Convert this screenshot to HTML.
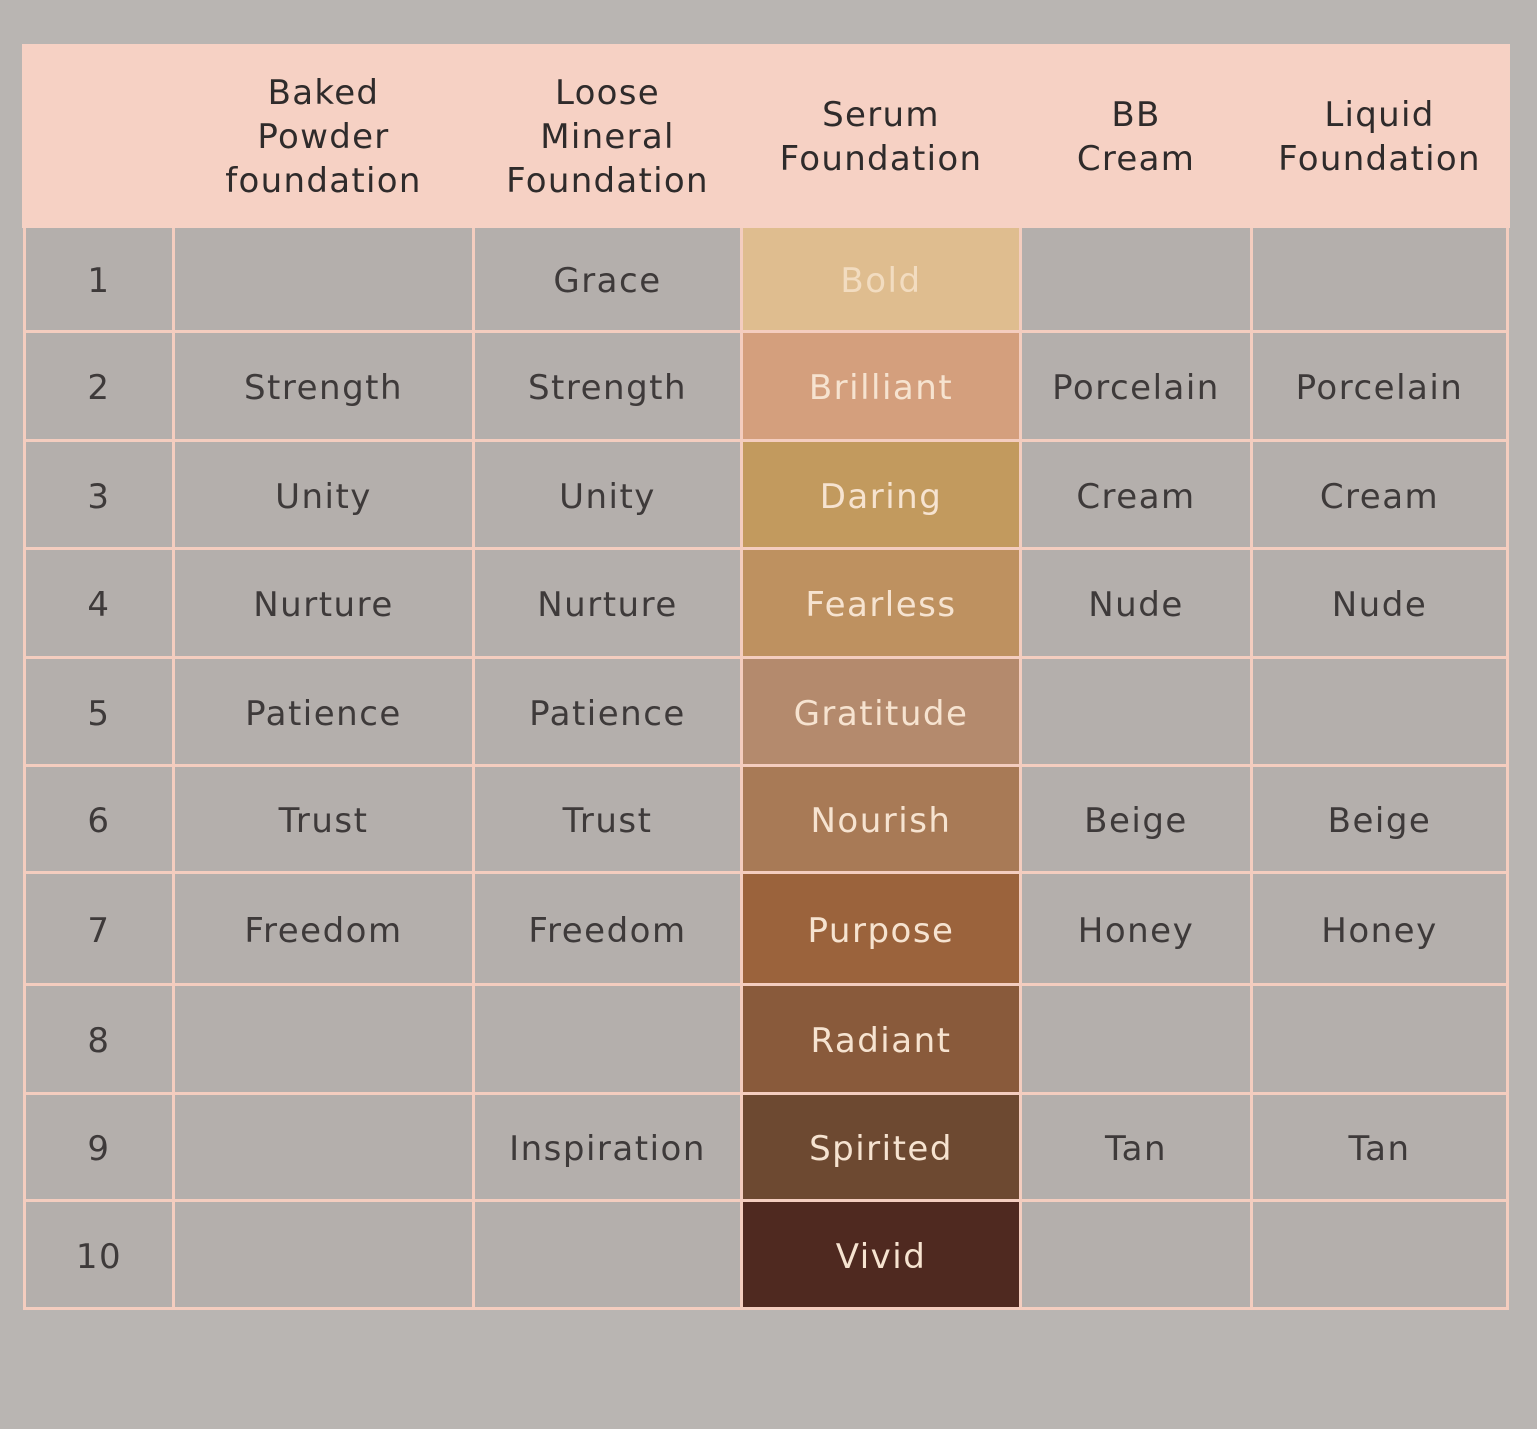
<!DOCTYPE html>
<html>
<head>
<meta charset="utf-8">
<style>
html,body{margin:0;padding:0;}
body{width:1537px;height:1429px;background:#b9b5b2;position:relative;overflow:hidden;font-family:"DejaVu Sans","Liberation Sans",sans-serif;}
.hdr{position:absolute;left:22px;top:44px;width:1488px;height:184px;background:#f6d1c4;}
.hc{position:absolute;top:1px;height:184px;display:flex;align-items:center;justify-content:center;text-align:center;font-size:34px;line-height:44px;color:#2f2b2b;letter-spacing:1.3px;}
.grid{position:absolute;left:23px;top:228px;width:1480px;padding:0 3px 3px 3px;background:#f4cdbf;display:grid;
grid-template-columns:146px 297px 265px 276px 228px 253px;
grid-template-rows:102px 106px 105px 106px 105px 104px 109px 106px 104px 105px;
column-gap:3px;row-gap:3px;}
.c{background:#b4afac;display:flex;align-items:center;justify-content:center;font-size:34px;color:#3e3a3a;letter-spacing:1.5px;padding-top:4px;box-sizing:border-box;}
.s{color:#f6e3d0;}
</style>
</head>
<body>
<div class="hdr">
  <div class="hc" style="left:153px;width:297px;">Baked<br>Powder<br>foundation</div>
  <div class="hc" style="left:453px;width:265px;">Loose<br>Mineral<br>Foundation</div>
  <div class="hc" style="left:721px;width:276px;">Serum<br>Foundation</div>
  <div class="hc" style="left:1000px;width:228px;">BB<br>Cream</div>
  <div class="hc" style="left:1231px;width:253px;">Liquid<br>Foundation</div>
</div>
<div class="grid">
  <div class="c">1</div><div class="c"></div><div class="c">Grace</div><div class="c s" style="background:#dfbd8f;color:#f2dcc0;">Bold</div><div class="c"></div><div class="c"></div>
  <div class="c">2</div><div class="c">Strength</div><div class="c">Strength</div><div class="c s" style="background:#d49f7d;">Brilliant</div><div class="c">Porcelain</div><div class="c">Porcelain</div>
  <div class="c">3</div><div class="c">Unity</div><div class="c">Unity</div><div class="c s" style="background:#c29a5e;">Daring</div><div class="c">Cream</div><div class="c">Cream</div>
  <div class="c">4</div><div class="c">Nurture</div><div class="c">Nurture</div><div class="c s" style="background:#be9160;">Fearless</div><div class="c">Nude</div><div class="c">Nude</div>
  <div class="c">5</div><div class="c">Patience</div><div class="c">Patience</div><div class="c s" style="background:#b48a6d;">Gratitude</div><div class="c"></div><div class="c"></div>
  <div class="c">6</div><div class="c">Trust</div><div class="c">Trust</div><div class="c s" style="background:#a87a56;">Nourish</div><div class="c">Beige</div><div class="c">Beige</div>
  <div class="c">7</div><div class="c">Freedom</div><div class="c">Freedom</div><div class="c s" style="background:#9b633c;">Purpose</div><div class="c">Honey</div><div class="c">Honey</div>
  <div class="c">8</div><div class="c"></div><div class="c"></div><div class="c s" style="background:#895a3b;">Radiant</div><div class="c"></div><div class="c"></div>
  <div class="c">9</div><div class="c"></div><div class="c">Inspiration</div><div class="c s" style="background:#6d4931;">Spirited</div><div class="c">Tan</div><div class="c">Tan</div>
  <div class="c">10</div><div class="c"></div><div class="c"></div><div class="c s" style="background:#4f2920;">Vivid</div><div class="c"></div><div class="c"></div>
</div>
</body>
</html>
